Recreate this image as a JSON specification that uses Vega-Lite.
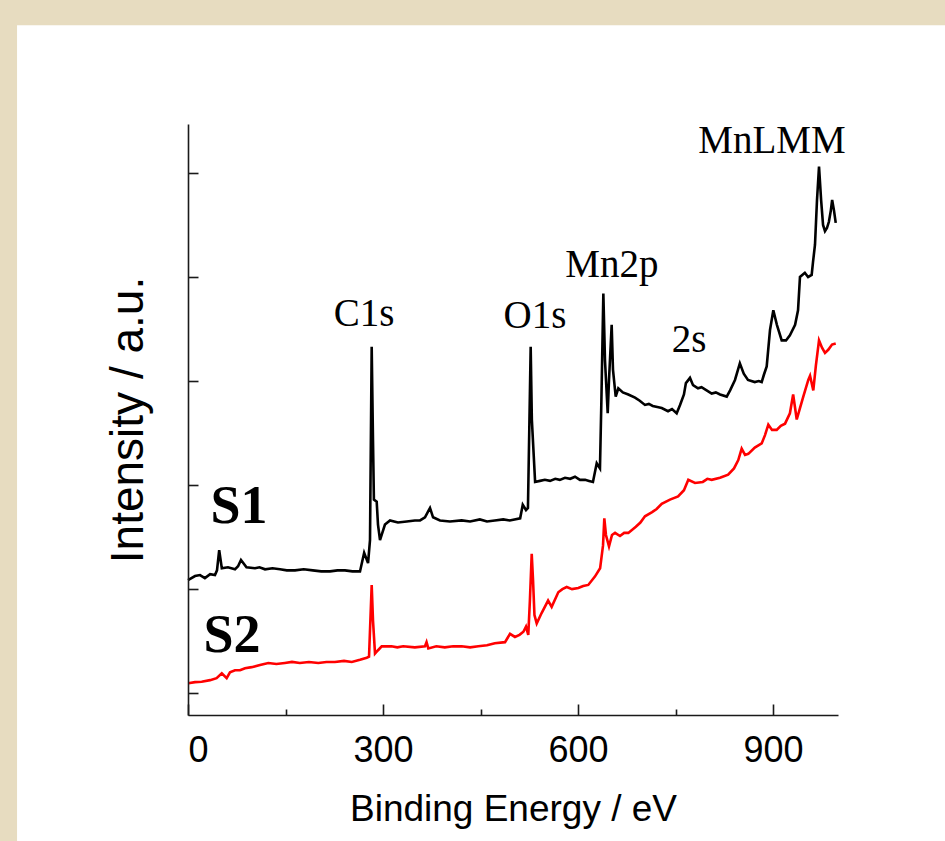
{
  "$schema": "https://vega.github.io/schema/vega-lite/v6.json",
  "width": 650,
  "height": 591,
  "autosize": "none",
  "padding": {"left": 188, "top": 124, "right": 107, "bottom": 126},
  "background": "#e7dcc0",
  "config": {
    "view": {"stroke": null},
    "axis": {"grid": false, "zindex": 1, "domainColor": "#1a1a1a", "tickColor": "#1a1a1a", "domainWidth": 1.6, "tickWidth": 1.6, "labelColor": "#000000", "titleColor": "#000000", "labelFont": "Liberation Sans", "titleFont": "Liberation Sans", "titleFontWeight": "normal"}
  },
  "datasets": {
    "spectra": [
      {"s":"S1","x":0,"y":1.087},{"s":"S1","x":10.8,"y":1.125},{"s":"S1","x":18.5,"y":1.135},{"s":"S1","x":26,"y":1.106},{"s":"S1","x":34,"y":1.144},{"s":"S1","x":41.5,"y":1.135},{"s":"S1","x":44.6,"y":1.18},{"s":"S1","x":48,"y":1.375},{"s":"S1","x":52,"y":1.2},{"s":"S1","x":61.5,"y":1.21},{"s":"S1","x":72.3,"y":1.19},{"s":"S1","x":77,"y":1.22},{"s":"S1","x":81.5,"y":1.28},{"s":"S1","x":90,"y":1.21},{"s":"S1","x":103,"y":1.2},{"s":"S1","x":110,"y":1.21},{"s":"S1","x":118.5,"y":1.19},{"s":"S1","x":130,"y":1.2},{"s":"S1","x":141.5,"y":1.19},{"s":"S1","x":152,"y":1.18},{"s":"S1","x":164.6,"y":1.18},{"s":"S1","x":178,"y":1.19},{"s":"S1","x":192,"y":1.18},{"s":"S1","x":205,"y":1.17},{"s":"S1","x":218.5,"y":1.17},{"s":"S1","x":230,"y":1.18},{"s":"S1","x":241.5,"y":1.18},{"s":"S1","x":253,"y":1.17},{"s":"S1","x":264.6,"y":1.17},{"s":"S1","x":271,"y":1.35},{"s":"S1","x":277,"y":1.25},{"s":"S1","x":280,"y":1.47},{"s":"S1","x":282.6,"y":3.33},{"s":"S1","x":284.6,"y":2.43},{"s":"S1","x":286,"y":1.86},{"s":"S1","x":290.3,"y":1.84},{"s":"S1","x":292.3,"y":1.62},{"s":"S1","x":295.4,"y":1.47},{"s":"S1","x":303,"y":1.62},{"s":"S1","x":310.8,"y":1.66},{"s":"S1","x":323,"y":1.64},{"s":"S1","x":336.5,"y":1.65},{"s":"S1","x":349,"y":1.66},{"s":"S1","x":357,"y":1.66},{"s":"S1","x":364.6,"y":1.69},{"s":"S1","x":372.3,"y":1.78},{"s":"S1","x":377,"y":1.69},{"s":"S1","x":387.7,"y":1.66},{"s":"S1","x":403,"y":1.65},{"s":"S1","x":421,"y":1.66},{"s":"S1","x":434,"y":1.65},{"s":"S1","x":449,"y":1.67},{"s":"S1","x":460,"y":1.65},{"s":"S1","x":472,"y":1.66},{"s":"S1","x":485,"y":1.67},{"s":"S1","x":495,"y":1.66},{"s":"S1","x":511,"y":1.68},{"s":"S1","x":515,"y":1.81},{"s":"S1","x":520,"y":1.76},{"s":"S1","x":523,"y":1.78},{"s":"S1","x":527.2,"y":3.33},{"s":"S1","x":529,"y":2.63},{"s":"S1","x":534,"y":2.03},{"s":"S1","x":541.5,"y":2.04},{"s":"S1","x":549,"y":2.05},{"s":"S1","x":557,"y":2.04},{"s":"S1","x":565,"y":2.06},{"s":"S1","x":572,"y":2.05},{"s":"S1","x":580,"y":2.07},{"s":"S1","x":588,"y":2.06},{"s":"S1","x":595.4,"y":2.08},{"s":"S1","x":603,"y":2.05},{"s":"S1","x":611,"y":2.05},{"s":"S1","x":617,"y":2.04},{"s":"S1","x":623,"y":2.03},{"s":"S1","x":628.8,"y":2.21},{"s":"S1","x":633.8,"y":2.16},{"s":"S1","x":636,"y":2.82},{"s":"S1","x":639,"y":3.84},{"s":"S1","x":641.5,"y":3.2},{"s":"S1","x":645.7,"y":2.69},{"s":"S1","x":647.7,"y":3.01},{"s":"S1","x":651.8,"y":3.54},{"s":"S1","x":653.8,"y":3.11},{"s":"S1","x":658,"y":2.85},{"s":"S1","x":662,"y":2.93},{"s":"S1","x":669,"y":2.89},{"s":"S1","x":677.4,"y":2.87},{"s":"S1","x":687.7,"y":2.84},{"s":"S1","x":695,"y":2.81},{"s":"S1","x":703,"y":2.77},{"s":"S1","x":709,"y":2.78},{"s":"S1","x":715,"y":2.76},{"s":"S1","x":722,"y":2.75},{"s":"S1","x":728.8,"y":2.74},{"s":"S1","x":738.5,"y":2.71},{"s":"S1","x":744.6,"y":2.73},{"s":"S1","x":751.8,"y":2.69},{"s":"S1","x":757,"y":2.77},{"s":"S1","x":763,"y":2.87},{"s":"S1","x":766,"y":2.98},{"s":"S1","x":772.3,"y":3.03},{"s":"S1","x":777,"y":2.96},{"s":"S1","x":784.6,"y":2.93},{"s":"S1","x":790,"y":2.94},{"s":"S1","x":795.4,"y":2.92},{"s":"S1","x":805.7,"y":2.88},{"s":"S1","x":812,"y":2.89},{"s":"S1","x":818.5,"y":2.87},{"s":"S1","x":828.8,"y":2.85},{"s":"S1","x":834,"y":2.91},{"s":"S1","x":841.5,"y":3.01},{"s":"S1","x":849,"y":3.17},{"s":"S1","x":855,"y":3.07},{"s":"S1","x":861.5,"y":3.01},{"s":"S1","x":872,"y":2.99},{"s":"S1","x":878,"y":3.0},{"s":"S1","x":882.6,"y":2.99},{"s":"S1","x":886,"y":3.06},{"s":"S1","x":890.3,"y":3.14},{"s":"S1","x":895.4,"y":3.49},{"s":"S1","x":900.5,"y":3.68},{"s":"S1","x":906,"y":3.54},{"s":"S1","x":913.4,"y":3.39},{"s":"S1","x":920,"y":3.39},{"s":"S1","x":926,"y":3.44},{"s":"S1","x":934,"y":3.54},{"s":"S1","x":938.5,"y":3.68},{"s":"S1","x":941.5,"y":4.0},{"s":"S1","x":949,"y":4.04},{"s":"S1","x":954,"y":4.0},{"s":"S1","x":959.5,"y":4.02},{"s":"S1","x":961.5,"y":4.14},{"s":"S1","x":964.6,"y":4.31},{"s":"S1","x":967.7,"y":4.74},{"s":"S1","x":970.8,"y":5.06},{"s":"S1","x":974,"y":4.74},{"s":"S1","x":977,"y":4.5},{"s":"S1","x":980,"y":4.44},{"s":"S1","x":983,"y":4.47},{"s":"S1","x":986,"y":4.53},{"s":"S1","x":989,"y":4.64},{"s":"S1","x":991,"y":4.74},{"s":"S1","x":993.8,"y":4.64},{"s":"S1","x":996.5,"y":4.52},
      {"s":"S2","x":0.5,"y":0.096},{"s":"S2","x":10.8,"y":0.106},{"s":"S2","x":21,"y":0.109},{"s":"S2","x":34,"y":0.125},{"s":"S2","x":44,"y":0.144},{"s":"S2","x":52,"y":0.19},{"s":"S2","x":59.5,"y":0.144},{"s":"S2","x":64.6,"y":0.2},{"s":"S2","x":72.3,"y":0.22},{"s":"S2","x":80,"y":0.22},{"s":"S2","x":87.7,"y":0.24},{"s":"S2","x":98,"y":0.25},{"s":"S2","x":110.8,"y":0.27},{"s":"S2","x":123.5,"y":0.29},{"s":"S2","x":136,"y":0.28},{"s":"S2","x":149,"y":0.29},{"s":"S2","x":160,"y":0.3},{"s":"S2","x":172,"y":0.29},{"s":"S2","x":186,"y":0.3},{"s":"S2","x":200.5,"y":0.29},{"s":"S2","x":213,"y":0.3},{"s":"S2","x":226,"y":0.3},{"s":"S2","x":240,"y":0.31},{"s":"S2","x":252,"y":0.3},{"s":"S2","x":264.6,"y":0.32},{"s":"S2","x":275,"y":0.34},{"s":"S2","x":278.5,"y":0.35},{"s":"S2","x":282.6,"y":1.04},{"s":"S2","x":284.6,"y":0.7},{"s":"S2","x":287.7,"y":0.38},{"s":"S2","x":292,"y":0.41},{"s":"S2","x":298,"y":0.45},{"s":"S2","x":313,"y":0.45},{"s":"S2","x":322,"y":0.44},{"s":"S2","x":331,"y":0.45},{"s":"S2","x":349,"y":0.44},{"s":"S2","x":364.6,"y":0.45},{"s":"S2","x":367,"y":0.49},{"s":"S2","x":369.7,"y":0.43},{"s":"S2","x":382,"y":0.45},{"s":"S2","x":395,"y":0.44},{"s":"S2","x":408,"y":0.45},{"s":"S2","x":421,"y":0.45},{"s":"S2","x":434,"y":0.44},{"s":"S2","x":446.6,"y":0.45},{"s":"S2","x":460,"y":0.46},{"s":"S2","x":472,"y":0.48},{"s":"S2","x":487.7,"y":0.49},{"s":"S2","x":495.4,"y":0.57},{"s":"S2","x":503,"y":0.54},{"s":"S2","x":510,"y":0.56},{"s":"S2","x":516,"y":0.59},{"s":"S2","x":520,"y":0.64},{"s":"S2","x":523.5,"y":0.56},{"s":"S2","x":526,"y":0.89},{"s":"S2","x":528.8,"y":1.34},{"s":"S2","x":530.8,"y":1.09},{"s":"S2","x":533,"y":0.75},{"s":"S2","x":536.5,"y":0.67},{"s":"S2","x":544,"y":0.77},{"s":"S2","x":554,"y":0.89},{"s":"S2","x":559.5,"y":0.83},{"s":"S2","x":569.7,"y":0.97},{"s":"S2","x":576,"y":1.0},{"s":"S2","x":582.6,"y":1.02},{"s":"S2","x":590.8,"y":1.0},{"s":"S2","x":600.5,"y":1.01},{"s":"S2","x":608,"y":1.03},{"s":"S2","x":615.8,"y":1.04},{"s":"S2","x":626,"y":1.12},{"s":"S2","x":634,"y":1.2},{"s":"S2","x":638.5,"y":1.42},{"s":"S2","x":640.5,"y":1.68},{"s":"S2","x":643,"y":1.52},{"s":"S2","x":647.7,"y":1.41},{"s":"S2","x":652.3,"y":1.52},{"s":"S2","x":657,"y":1.54},{"s":"S2","x":664.6,"y":1.51},{"s":"S2","x":671,"y":1.54},{"s":"S2","x":677.4,"y":1.54},{"s":"S2","x":689,"y":1.6},{"s":"S2","x":696,"y":1.64},{"s":"S2","x":703,"y":1.7},{"s":"S2","x":714,"y":1.74},{"s":"S2","x":721,"y":1.77},{"s":"S2","x":728.8,"y":1.82},{"s":"S2","x":741.5,"y":1.86},{"s":"S2","x":754,"y":1.89},{"s":"S2","x":763,"y":1.95},{"s":"S2","x":769.7,"y":2.05},{"s":"S2","x":780,"y":2.02},{"s":"S2","x":792,"y":2.03},{"s":"S2","x":799,"y":2.06},{"s":"S2","x":805.7,"y":2.05},{"s":"S2","x":818.5,"y":2.07},{"s":"S2","x":831,"y":2.1},{"s":"S2","x":840,"y":2.16},{"s":"S2","x":846.6,"y":2.24},{"s":"S2","x":851.8,"y":2.35},{"s":"S2","x":857,"y":2.29},{"s":"S2","x":862,"y":2.3},{"s":"S2","x":872,"y":2.36},{"s":"S2","x":882.6,"y":2.4},{"s":"S2","x":887.7,"y":2.48},{"s":"S2","x":892.8,"y":2.58},{"s":"S2","x":898.5,"y":2.53},{"s":"S2","x":905.7,"y":2.53},{"s":"S2","x":912,"y":2.57},{"s":"S2","x":918.5,"y":2.59},{"s":"S2","x":926,"y":2.69},{"s":"S2","x":931,"y":2.87},{"s":"S2","x":936.5,"y":2.63},{"s":"S2","x":941.5,"y":2.74},{"s":"S2","x":946.6,"y":2.85},{"s":"S2","x":954.3,"y":3.01},{"s":"S2","x":957,"y":3.05},{"s":"S2","x":962,"y":2.91},{"s":"S2","x":966,"y":3.15},{"s":"S2","x":970.8,"y":3.39},{"s":"S2","x":975.4,"y":3.32},{"s":"S2","x":980,"y":3.27},{"s":"S2","x":985,"y":3.3},{"s":"S2","x":990.8,"y":3.35},{"s":"S2","x":996.5,"y":3.36}
    ]
  },
  "resolve": {"scale": {"x": "independent"}, "axis": {"x": "independent"}},
  "layer": [
    {
      "data": {"values": [{}]},
      "mark": {"type": "rect", "fill": "#ffffff", "clip": false},
      "encoding": {
        "x": {"datum": -263, "type": "quantitative", "scale": {"domain": [0, 1000], "nice": false, "zero": false},
              "axis": {"orient": "bottom", "values": [150, 450, 750], "tickSize": -6, "labels": false, "domain": false, "title": null, "zindex": 1}},
        "x2": {"datum": 1180},
        "y": {"datum": 6.42, "type": "quantitative", "scale": {"domain": [-0.21, 5.47], "nice": false, "zero": false},
              "axis": {"values": [0, 1, 2, 3, 4, 5], "tickSize": -10, "labels": false, "title": "Intensity / a.u.", "titleFontSize": 46, "titlePadding": 35, "zindex": 1}},
        "y2": {"datum": -1.6}
      }
    },
    {
      "data": {"name": "spectra"},
      "mark": {"type": "line", "strokeWidth": 2.6, "interpolate": "linear"},
      "encoding": {
        "x": {"field": "x", "type": "quantitative", "scale": {"domain": [0, 1000], "nice": false, "zero": false},
              "axis": {"orient": "bottom", "values": [0, 300, 600, 900], "tickSize": -11, "labelFontSize": 36, "labelPadding": 29, "title": "Binding Energy / eV", "titleFontSize": 37, "titlePadding": 23, "zindex": 1}},
        "y": {"field": "y", "type": "quantitative", "scale": {"domain": [-0.21, 5.47], "nice": false, "zero": false},
              "axis": {"values": [0, 1, 2, 3, 4, 5], "tickSize": -10, "labels": false, "title": "Intensity / a.u.", "titleFontSize": 46, "titlePadding": 35, "zindex": 1}},
        "color": {"field": "s", "type": "nominal", "scale": {"domain": ["S1", "S2"], "range": ["#000000", "#ff0000"]}, "legend": null}
      }
    },
    {
      "data": {"values": [
        {"t": "C1s", "x": 270.8, "y": 3.53},
        {"t": "O1s", "x": 533.8, "y": 3.51},
        {"t": "Mn2p", "x": 652, "y": 4.0},
        {"t": "2s", "x": 770.8, "y": 3.28},
        {"t": "MnLMM", "x": 898.5, "y": 5.19}
      ]},
      "mark": {"type": "text", "font": "Liberation Serif", "fontSize": 39, "align": "center", "baseline": "alphabetic", "color": "#000000", "clip": false},
      "encoding": {
        "x": {"field": "x", "type": "quantitative", "scale": {"domain": [0, 1000], "nice": false, "zero": false}, "axis": null},
        "y": {"field": "y", "type": "quantitative"},
        "text": {"field": "t"}
      }
    },
    {
      "data": {"values": [
        {"t": "S1", "x": 78.5, "y": 1.64},
        {"t": "S2", "x": 67.7, "y": 0.40}
      ]},
      "mark": {"type": "text", "font": "Liberation Serif", "fontSize": 54, "fontWeight": "bold", "align": "center", "baseline": "alphabetic", "color": "#000000"},
      "encoding": {
        "x": {"field": "x", "type": "quantitative", "scale": {"domain": [0, 1000], "nice": false, "zero": false}, "axis": null},
        "y": {"field": "y", "type": "quantitative"},
        "text": {"field": "t"}
      }
    }
  ]
}
